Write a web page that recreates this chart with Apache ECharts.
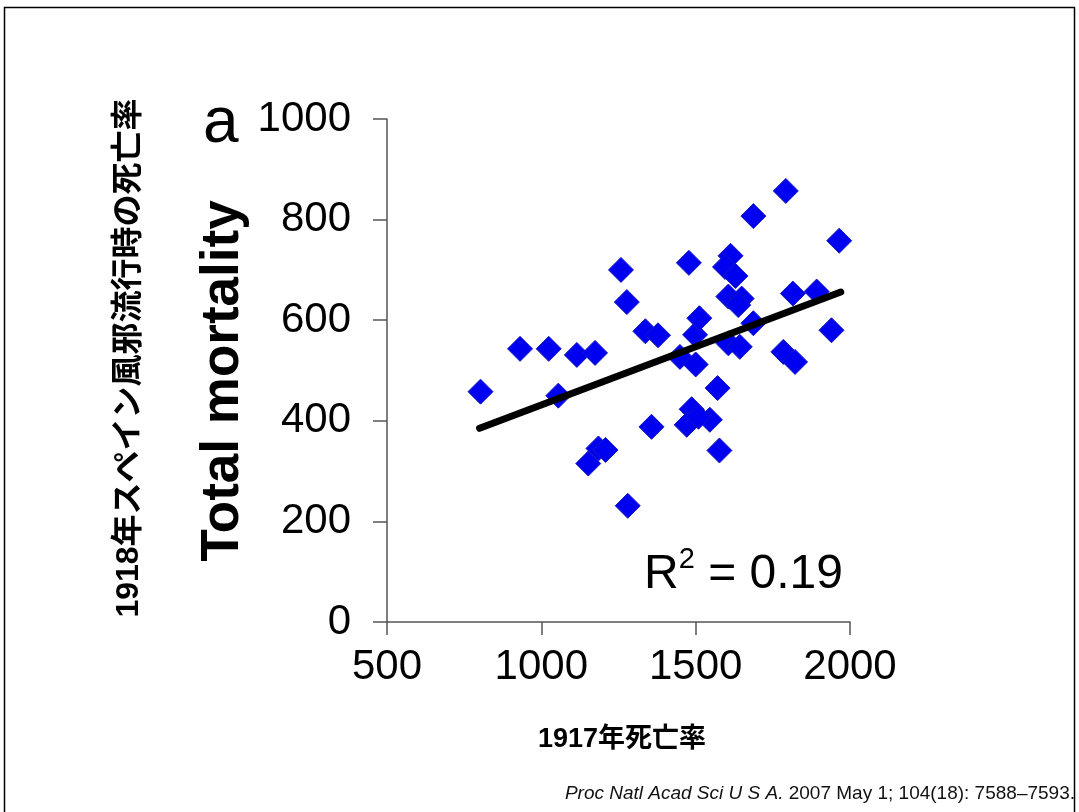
<!DOCTYPE html>
<html>
<head>
<meta charset="utf-8">
<script src="https://cdn.jsdelivr.net/npm/echarts@6/dist/echarts.min.js"></script>
<style>
  html, body { margin: 0; padding: 0; background: #fff; }
  #chart { width: 1079px; height: 812px; }
</style>
</head>
<body>
<div id="chart"></div>
<script>
// 1917 baseline mortality vs. 1918 pandemic total mortality (per 100,000)
const mortality1917 = [803, 931, 1024, 1055, 1115, 1174, 1152, 1185, 1208, 1258, 1277, 1280, 1337, 1378, 1357,
  1449, 1478, 1498, 1500, 1512, 1487, 1471, 1546, 1509, 1571, 1577, 1613, 1595, 1629, 1606, 1649, 1638,
  1606, 1643, 1687, 1687, 1792, 1784, 1822, 1815, 1892, 1940, 1965];
const mortality1918 = [458, 543, 543, 450, 531, 535, 315, 345, 342, 700, 636, 231, 578, 570, 388,
  527, 714, 571, 512, 604, 423, 392, 402, 408, 465, 341, 728, 706, 688, 647, 643, 630,
  554, 547, 594, 807, 857, 537, 517, 653, 657, 580, 758];

// least-squares fit endpoints
const fitX = [800, 1970];
const fitY = [385, 656];

const xTicks = [500, 1000, 1500, 2000];
const yTicks = [0, 200, 400, 600, 800, 1000];
const rSquared = '0.19';

const FONT = '"Liberation Sans", Arial, Helvetica, sans-serif';
const CJK = '"Liberation Sans", "Noto Sans CJK JP", sans-serif';

const chart = echarts.init(document.getElementById('chart'), null, { renderer: 'canvas' });

chart.setOption({
  backgroundColor: '#ffffff',
  animation: false,
  grid: { left: 387, right: 229, top: 119, bottom: 190 },
  xAxis: {
    type: 'value',
    min: xTicks[0], max: xTicks[xTicks.length - 1], interval: 500,
    axisLine: { lineStyle: { color: '#555', width: 1.5 } },
    axisTick: { length: 13, lineStyle: { color: '#555', width: 1.5 } },
    axisLabel: { color: '#000', fontFamily: FONT, fontSize: 42, margin: 24,
      formatter: v => String(v) },
    splitLine: { show: false }
  },
  yAxis: {
    type: 'value',
    min: yTicks[0], max: yTicks[yTicks.length - 1], interval: 200,
    axisLine: { show: true, lineStyle: { color: '#555', width: 1.5 } },
    axisTick: { show: true, length: 14, lineStyle: { color: '#555', width: 1.5 } },
    axisLabel: { color: '#000', fontFamily: FONT, fontSize: 42, margin: 36,
      formatter: v => String(v) },
    splitLine: { show: false }
  },
  series: [
    {
      type: 'scatter',
      symbol: 'diamond',
      symbolSize: [25, 25],
      itemStyle: { color: '#0000f0', borderColor: '#1818c0', borderWidth: 1, opacity: 1 },
      data: mortality1917.map((x, i) => [x, mortality1918[i]]),
      z: 2
    },
    {
      type: 'line',
      data: fitX.map((x, i) => [x, fitY[i]]),
      symbol: 'none',
      lineStyle: { color: '#000', width: 7, cap: 'round' },
      z: 3
    }
  ],
  graphic: [
    {
      type: 'rect',
      shape: { x: 4.5, y: 7.5, width: 1070, height: 900 },
      style: { fill: 'none', stroke: '#000', lineWidth: 1.5 },
      silent: true
    },
    {
      type: 'text', x: 203, y: 124,
      style: { text: 'a', font: '64px ' + FONT, fill: '#000', verticalAlign: 'middle' }
    },
    {
      type: 'text', x: 223, y: 381, rotation: Math.PI / 2,
      style: { text: 'Total mortality', font: 'bold 53px ' + FONT, fill: '#000',
        align: 'center', verticalAlign: 'middle' }
    },
    {
      type: 'text', x: 129, y: 358, rotation: Math.PI / 2,
      style: { text: '1918年スペイン風邪流行時の死亡率', font: 'bold 32px ' + CJK, fill: '#000',
        align: 'center', verticalAlign: 'middle' }
    },
    {
      type: 'text', x: 622, y: 740,
      style: { text: '1917年死亡率', font: 'bold 27px ' + CJK, fill: '#000',
        align: 'center', verticalAlign: 'middle' }
    },
    {
      type: 'text', x: 644, y: 575,
      style: {
        text: 'R{sup|2} = ' + rSquared,
        font: '48px ' + FONT, fill: '#000', verticalAlign: 'middle',
        rich: { sup: { fontSize: 29, fontFamily: FONT, verticalAlign: 'top', padding: [0, 0, 30, 0], fill: '#000' } }
      }
    },
    {
      type: 'text', x: 1075, y: 794,
      style: {
        text: '{i|Proc Natl Acad Sci U S A.} 2007 May 1; 104(18): 7588–7593.',
        font: '19px ' + FONT, fill: '#111', align: 'right', verticalAlign: 'middle',
        rich: { i: { fontStyle: 'italic', fontSize: 19, fontFamily: FONT } }
      }
    }
  ]
});
</script>
</body>
</html>
